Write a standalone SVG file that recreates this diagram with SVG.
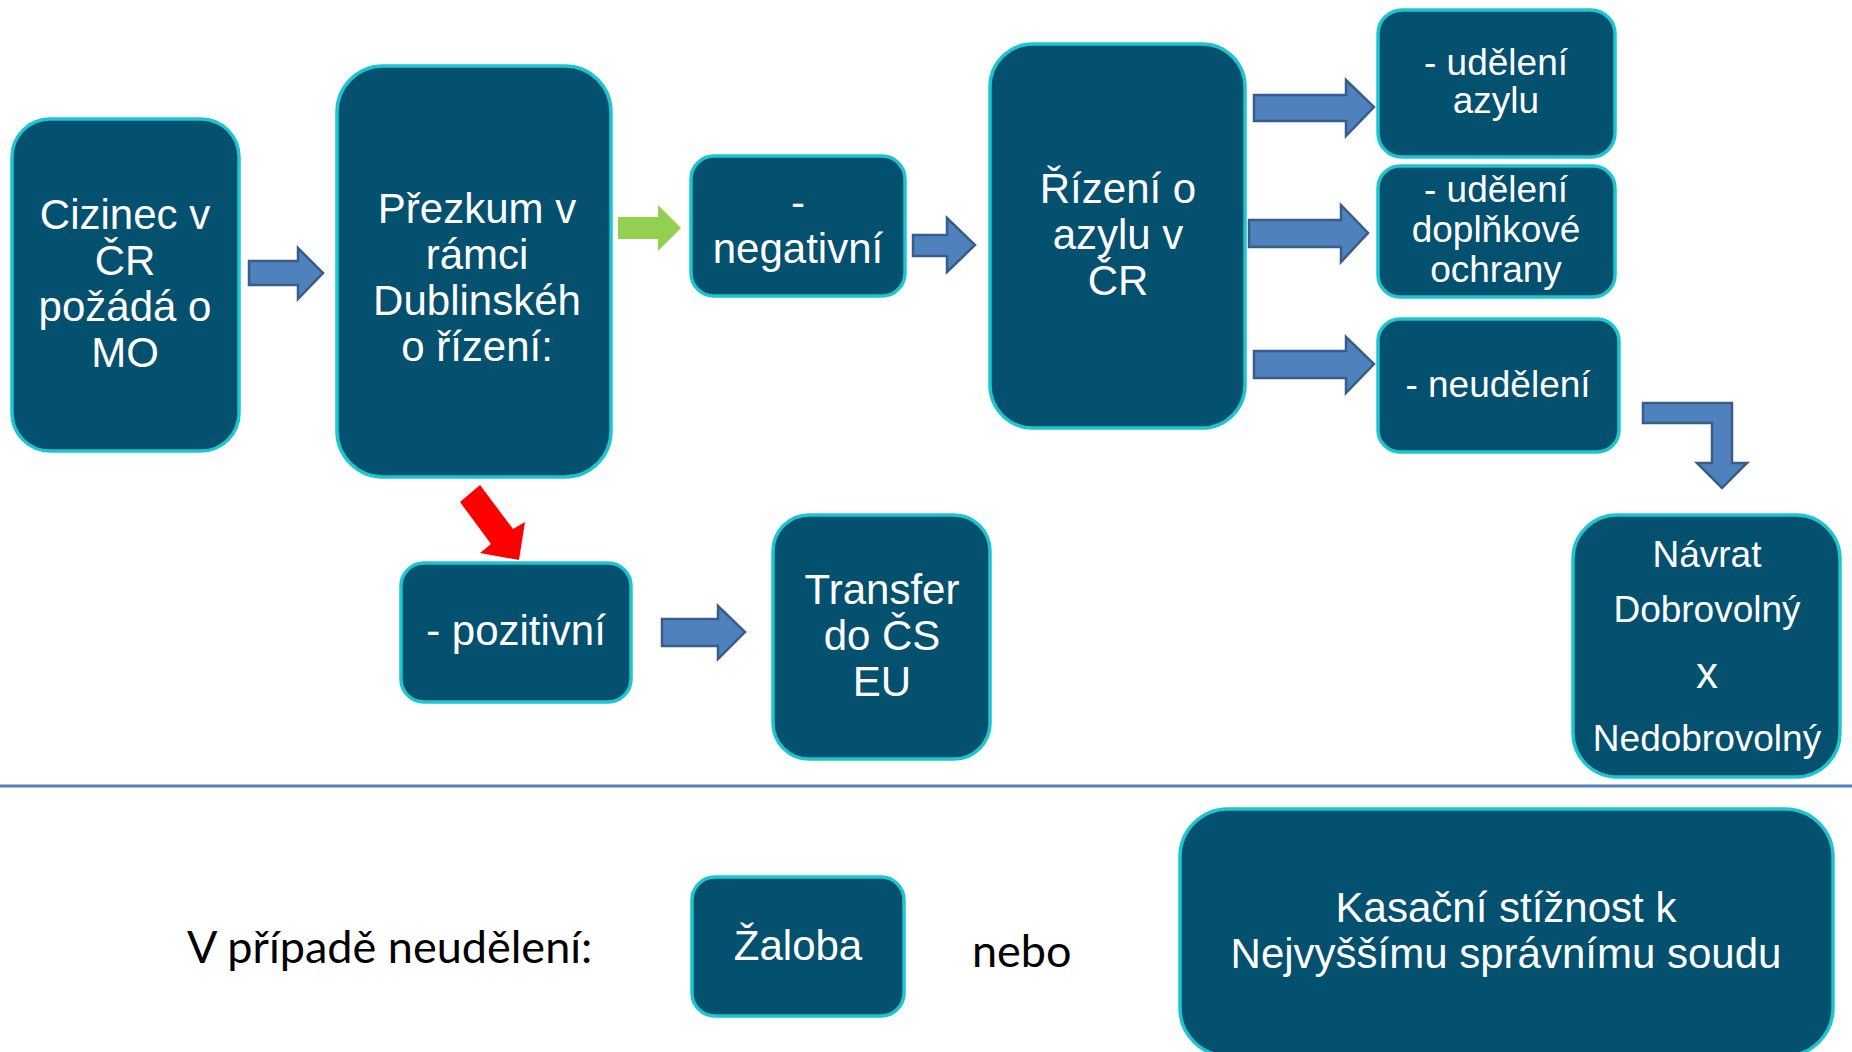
<svg xmlns="http://www.w3.org/2000/svg" width="1852" height="1052" viewBox="0 0 1852 1052">
<style>
.box{fill:#03506F;stroke:#1DC5CF;stroke-width:3.5}
.t{font-family:"Liberation Sans",Arial,sans-serif;font-size:42px;fill:#FFFFFF;text-anchor:middle}
.s{font-size:37px}
.blk{font-family:Lato,"Liberation Sans",sans-serif;font-size:45px;fill:#000000}
.ba{fill:#4F81BD;stroke:#385D8A;stroke-width:2.5;stroke-linejoin:miter}
</style>
<rect width="1852" height="1052" fill="#FFFFFF"/>
<g id="connectors">
<polygon class="ba" points="249,261 298,261 298,248 323,273 298,299 298,285 249,285"/>
<polygon fill="#92D050" points="618,217 658,217 658,205 681,228 658,251 658,239 618,239"/>
<polygon class="ba" points="913,235 947,235 947,218 975,245 947,272 947,256 913,256"/>
<polygon class="ba" points="1254,95 1346,95 1346,80 1374,107 1346,136 1346,121 1254,121"/>
<polygon class="ba" points="1249,220 1341,220 1341,205 1368,233 1341,262 1341,247 1249,247"/>
<polygon class="ba" points="1254,351 1346,351 1346,337 1374,364 1346,393 1346,378 1254,378"/>
<polygon fill="#FF0000" points="460,502 480,485 513,529 525,522 519,560 480,553 491,544"/>
<polygon class="ba" points="662,619 718,619 718,606 745,632 718,659 718,646 662,646"/>
<polygon class="ba" points="1643,403 1732,403 1732,463 1747,463 1722,488 1697,463 1712,463 1712,423 1643,423"/>
</g>
<line x1="0" y1="786" x2="1852" y2="786" stroke="#4F81BD" stroke-width="3"/>
<g id="cizinec">
<rect class="box" x="12" y="119" width="227" height="332" rx="38"/>
<text class="t" x="125"><tspan x="125" y="229">Cizinec v</tspan><tspan x="125" y="275">ČR</tspan><tspan x="125" y="321">požádá o</tspan><tspan x="125" y="367">MO</tspan></text>
</g>
<g id="prezkum">
<rect class="box" x="337" y="66" width="274" height="411" rx="46"/>
<text class="t"><tspan x="477" y="223">Přezkum v</tspan><tspan x="477" y="269">rámci</tspan><tspan x="477" y="315">Dublinskéh</tspan><tspan x="477" y="361">o řízení:</tspan></text>
</g>
<g id="negativni">
<rect class="box" x="691" y="156" width="214" height="140" rx="23"/>
<text class="t"><tspan x="798" y="217">-</tspan><tspan x="798" y="263">negativní</tspan></text>
</g>
<g id="rizeni">
<rect class="box" x="990" y="44" width="255" height="384" rx="43"/>
<text class="t"><tspan x="1118" y="203">Řízení o</tspan><tspan x="1118" y="249">azylu v</tspan><tspan x="1118" y="295">ČR</tspan></text>
</g>
<g id="udeleni-azylu">
<rect class="box" x="1378" y="10" width="237" height="147" rx="24"/>
<text class="t s"><tspan x="1496" y="75">- udělení</tspan><tspan x="1496" y="113">azylu</tspan></text>
</g>
<g id="doplnkova">
<rect class="box" x="1378" y="166" width="237" height="131" rx="22"/>
<text class="t s"><tspan x="1496" y="202">- udělení</tspan><tspan x="1496" y="242">doplňkové</tspan><tspan x="1496" y="282">ochrany</tspan></text>
</g>
<g id="neudeleni">
<rect class="box" x="1378" y="319" width="241" height="133" rx="22"/>
<text class="t s" x="1498" y="397">- neudělení</text>
</g>
<g id="pozitivni">
<rect class="box" x="401" y="563" width="230" height="139" rx="23"/>
<text class="t" x="516" y="645">- pozitivní</text>
</g>
<g id="transfer">
<rect class="box" x="773" y="515" width="217" height="244" rx="36"/>
<text class="t"><tspan x="882" y="604">Transfer</tspan><tspan x="882" y="650">do ČS</tspan><tspan x="882" y="696">EU</tspan></text>
</g>
<g id="navrat">
<rect class="box" x="1573" y="515" width="267" height="262" rx="44"/>
<text class="t s"><tspan x="1707" y="567">Návrat</tspan><tspan x="1707" y="622">Dobrovolný</tspan><tspan x="1707" y="688" font-size="44">x</tspan><tspan x="1707" y="751">Nedobrovolný</tspan></text>
</g>
<g id="v-pripade">
<text class="blk" x="187" y="963">V případě neudělení:</text>
</g>
<g id="zaloba">
<rect class="box" x="692" y="877" width="212" height="139" rx="23"/>
<text class="t" x="798" y="960">Žaloba</text>
</g>
<g id="nebo">
<text class="blk" x="972" y="967">nebo</text>
</g>
<g id="kasacni">
<rect class="box" x="1180" y="809" width="653" height="247" rx="48"/>
<text class="t"><tspan x="1506" y="922">Kasační stížnost k</tspan><tspan x="1506" y="968">Nejvyššímu správnímu soudu</tspan></text>
</g>
</svg>
